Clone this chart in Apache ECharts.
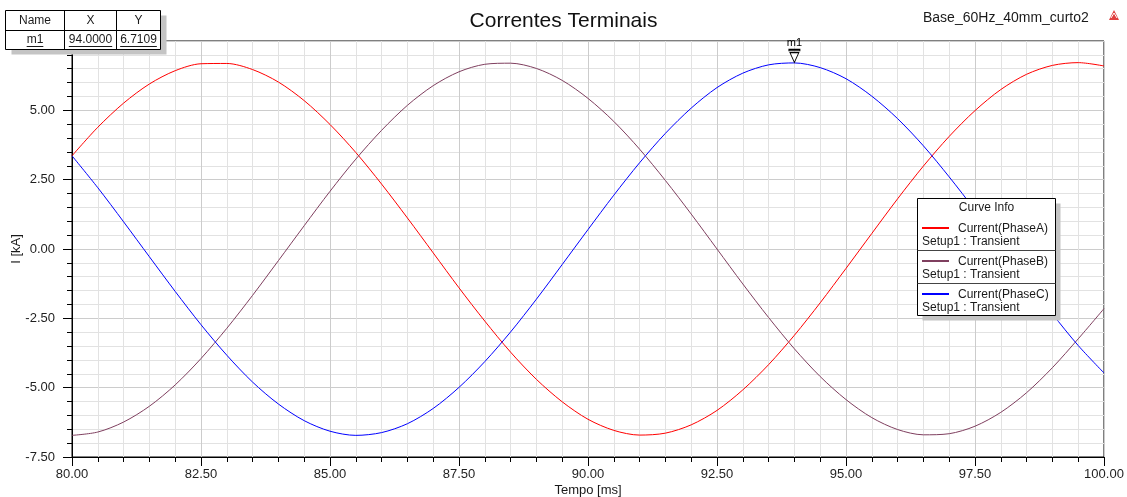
<!DOCTYPE html>
<html>
<head>
<meta charset="utf-8">
<script src="https://cdn.jsdelivr.net/npm/echarts@6/dist/echarts.min.js"></script>
<style>
html,body{margin:0;padding:0;background:#fff;}
#chart{width:1127px;height:497px;}
</style>
</head>
<body>
<div id="chart"></div>
<script>
// ---- data ----
const chartTitle = 'Correntes Terminais';
const projectName = 'Base_60Hz_40mm_curto2';
const xAxisName = 'Tempo [ms]';
const yAxisName = 'I [kA]';
const tempo = [80.0,80.5,81.0,81.5,82.0,82.5,83.0,83.5,84.0,84.5,85.0,85.5,86.0,86.5,87.0,87.5,88.0,88.5,89.0,89.5,90.0,90.5,91.0,91.5,92.0,92.5,93.0,93.5,94.0,94.5,95.0,95.5,96.0,96.5,97.0,97.5,98.0,98.5,99.0,99.5,100.0];
const phaseA = [3.36,4.39,5.26,5.95,6.43,6.68,6.69,6.47,6.02,5.35,4.49,3.48,2.34,1.12,-0.14,-1.40,-2.60,-3.72,-4.70,-5.51,-6.14,-6.54,-6.71,-6.64,-6.34,-5.82,-5.08,-4.17,-3.11,-1.94,-0.70,0.56,1.81,2.99,4.06,4.99,5.75,6.30,6.62,6.72,6.60];
const phaseB = [-6.72,-6.60,-6.24,-5.67,-4.90,-3.95,-2.86,-1.67,-0.42,0.84,2.08,3.24,4.28,5.18,5.89,6.39,6.66,6.70,6.51,6.08,5.43,4.60,3.60,2.47,1.26,0.00,-1.26,-2.47,-3.60,-4.60,-5.43,-6.08,-6.51,-6.70,-6.66,-6.39,-5.89,-5.18,-4.28,-3.24,-2.15];
const phaseC = [3.36,2.21,0.98,-0.28,-1.53,-2.73,-3.83,-4.80,-5.59,-6.19,-6.57,-6.72,-6.62,-6.30,-5.75,-4.99,-4.06,-2.99,-1.81,-0.56,0.70,1.94,3.11,4.17,5.08,5.82,6.34,6.64,6.71,6.54,6.14,5.51,4.70,3.72,2.60,1.40,0.14,-1.12,-2.34,-3.48,-4.47];
const seriesNames = ['Current(PhaseA)','Current(PhaseB)','Current(PhaseC)'];
const seriesSetup = 'Setup1 : Transient';
const seriesColors = ['#ff0000','#7f3f5f','#0000ff'];
const markerName = 'm1';
const markerX = 94.0;
const markerY = 6.7109;
const tableHeaders = ['Name','X','Y'];
const xMin = 80, xMax = 100, xStep = 2.5;
const yMin = -7.5, yMax = 7.5, yStep = 2.5;

const FONT = '"Liberation Sans", Arial, sans-serif';
const chart = echarts.init(document.getElementById('chart'), null, {renderer:'canvas'});

function pairs(arr){ return tempo.map((t,i)=>[t, arr[i]]); }
const allData = [phaseA, phaseB, phaseC];

const series = allData.map((d,i)=>({
  name: seriesNames[i],
  type: 'line',
  data: pairs(d),
  showSymbol: false,
  smooth: 0.3,
  lineStyle: {color: seriesColors[i], width: 1},
  itemStyle: {color: seriesColors[i]},
  z: 3,
  markPoint: i === 2 ? {
    symbol: 'path://M0,0H10V1.2H0Z M1,3H9L5,12Z',
    symbolSize: [11, 13],
    symbolOffset: [0, -7],
    itemStyle: {color: '#ffffff', borderColor: '#000', borderWidth: 1},
    label: {show: true, position: 'top', distance: 0, formatter: markerName, fontFamily: FONT, fontSize: 11, color: '#000'},
    data: [{coord: [markerX, markerY]}],
    silent: true
  } : undefined
}));

// ---- graphic elements: table, curve info, header text ----
const g = [];
g.push({type:'text', left: 923, top: 11, z: 10, style:{text: projectName, font: '14px ' + FONT, fill:'#1a1a1a'}});
g.push({type:'polygon', z:10, shape:{points:[[1109,20],[1114,10],[1119,20]]}, style:{fill:'#e04040'}});
g.push({type:'polyline', z:11, shape:{points:[[1111,18],[1114,13],[1117,18]]}, style:{stroke:'#ffffff', lineWidth:1, fill:null}});

const tx = 5.5, ty = 10.5, tw = 155, th = 39;
const colX = [tx, 64.5, 116.5, tx + tw];
const rowMid = [20.5, 40];
g.push({type:'rect', z:20, shape:{x: tx+6, y: ty+5, width: tw, height: th}, style:{fill:'#c4c4c4'}});
g.push({type:'rect', z:21, shape:{x: tx, y: ty, width: tw, height: th}, style:{fill:'#fff', stroke:'#000', lineWidth:1}});
g.push({type:'line', z:22, shape:{x1: colX[1], y1: ty, x2: colX[1], y2: ty+th}, style:{stroke:'#000', lineWidth:1}});
g.push({type:'line', z:22, shape:{x1: colX[2], y1: ty, x2: colX[2], y2: ty+th}, style:{stroke:'#000', lineWidth:1}});
g.push({type:'line', z:22, shape:{x1: tx, y1: 30.5, x2: tx+tw, y2: 30.5}, style:{stroke:'#000', lineWidth:1}});
const rowVals = [markerName, markerX.toFixed(4), markerY.toFixed(4)];
const meas = (s, f) => echarts.format.getTextRect ? echarts.format.getTextRect(s, f).width : s.length*6.5;
for (let c = 0; c < 3; c++) {
  const cx = (colX[c] + colX[c+1]) / 2;
  g.push({type:'text', z:23, x: cx, y: rowMid[0], style:{text: tableHeaders[c], font:'12px ' + FONT, fill:'#1a1a1a', align:'center', verticalAlign:'middle'}});
  g.push({type:'text', z:23, x: cx, y: rowMid[1], style:{text: rowVals[c], font:'12px ' + FONT, fill:'#1a1a1a', align:'center', verticalAlign:'middle'}});
  const w = meas(rowVals[c], '12px ' + FONT);
  g.push({type:'line', z:23, shape:{x1: cx - w/2, y1: 46.5, x2: cx + w/2, y2: 46.5}, style:{stroke:'#1a1a1a', lineWidth:1}});
}

const lx = 917.5, ly = 198.5, lw = 138, lh = 117;
g.push({type:'rect', z:20, shape:{x: lx+5, y: ly+5, width: lw, height: lh}, style:{fill:'#c4c4c4'}});
g.push({type:'rect', z:21, shape:{x: lx, y: ly, width: lw, height: lh}, style:{fill:'#fff', stroke:'#000', lineWidth:1}});
g.push({type:'text', z:23, x: lx + lw/2, y: 208, style:{text:'Curve Info', font:'12px ' + FONT, fill:'#1a1a1a', align:'center', verticalAlign:'middle'}});
const rowY = [228, 261, 294];
for (let i = 0; i < 3; i++) {
  if (i > 0) g.push({type:'line', z:22, shape:{x1: lx, y1: rowY[i]-10.5, x2: lx+lw, y2: rowY[i]-10.5}, style:{stroke:'#444', lineWidth:1}});
  g.push({type:'line', z:22, shape:{x1: 922, y1: rowY[i], x2: 949, y2: rowY[i]}, style:{stroke: seriesColors[i], lineWidth:2}});
  g.push({type:'text', z:23, x: 958, y: rowY[i]+0.5, style:{text: seriesNames[i], font:'12px ' + FONT, fill:'#1a1a1a', align:'left', verticalAlign:'middle'}});
  g.push({type:'text', z:23, x: 922, y: rowY[i]+13.5, style:{text: seriesSetup, font:'12px ' + FONT, fill:'#1a1a1a', align:'left', verticalAlign:'middle'}});
}

const option = {
  animation: false,
  backgroundColor: '#ffffff',
  title: {text: chartTitle, left: 'center', top: 6, textStyle:{fontFamily: FONT, fontSize: 21, fontWeight: 'normal', color:'#111'}},
  grid: {left: 72, right: 23, top: 41, bottom: 40, show: true, borderColor:'#000', borderWidth: 1, backgroundColor:'#fff', containLabel: false, outerBoundsMode: 'none'},
  xAxis: {
    type: 'value', min: xMin, max: xMax, interval: xStep,
    name: xAxisName, nameLocation: 'middle', nameGap: 27, nameMoveOverlap: false,
    nameTextStyle: {fontFamily: FONT, fontSize: 13, color:'#1a1a1a'},
    axisLine: {show: true, onZero: false, lineStyle:{color:'#000', width:1}},
    axisTick: {show: true, length: 9, lineStyle:{color:'#000'}},
    minorTick: {show: true, splitNumber: 5, length: 5, lineStyle:{color:'#000'}},
    axisLabel: {formatter: v => v.toFixed(2), fontFamily: FONT, fontSize: 13, color:'#1e1e1e', margin: 11},
    splitLine: {show: true, lineStyle:{color:'#cccccc', width:1}},
    minorSplitLine: {show: true, lineStyle:{color:'#e2e2e2', width:1}}
  },
  yAxis: {
    type: 'value', min: yMin, max: yMax, interval: yStep,
    name: yAxisName, nameLocation: 'middle', nameGap: 49, nameMoveOverlap: false,
    nameTextStyle: {fontFamily: FONT, fontSize: 13, color:'#1a1a1a'},
    axisLine: {show: true, onZero: false, lineStyle:{color:'#000', width:1}},
    axisTick: {show: true, length: 9, lineStyle:{color:'#000'}},
    minorTick: {show: true, splitNumber: 5, length: 5, lineStyle:{color:'#000'}},
    axisLabel: {formatter: v => v.toFixed(2), fontFamily: FONT, fontSize: 13, color:'#1e1e1e', margin: 17},
    splitLine: {show: true, lineStyle:{color:'#cccccc', width:1}},
    minorSplitLine: {show: true, lineStyle:{color:'#e2e2e2', width:1}}
  },
  series: series,
  graphic: g
};
chart.setOption(option);
</script>
</body>
</html>
